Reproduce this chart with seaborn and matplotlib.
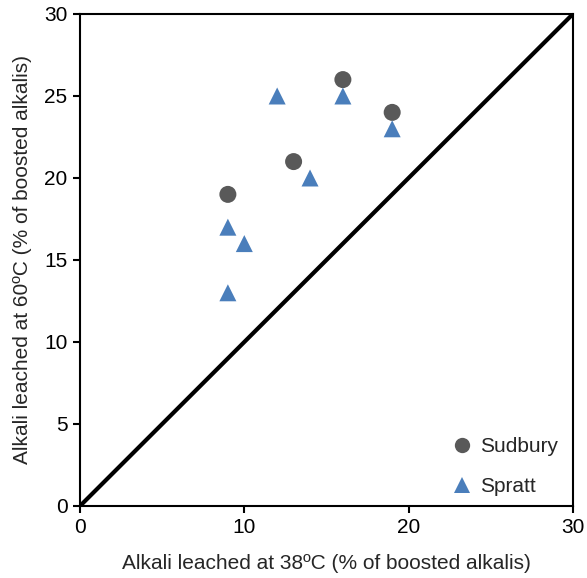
import matplotlib
matplotlib.use("Agg")
import matplotlib.pyplot as plt
import seaborn as sns
import pandas as pd

sudbury_x = [9, 13, 16, 19]
sudbury_y = [19, 21, 26, 24]
spratt_x = [9, 9, 10, 12, 14, 16, 19]
spratt_y = [17, 13, 16, 25, 20, 25, 23]
x_ticks = [0, 10, 20, 30]
y_ticks = [0, 5, 10, 15, 20, 25, 30]

df = pd.DataFrame({
    "x": sudbury_x + spratt_x,
    "y": sudbury_y + spratt_y,
    "series": ["Sudbury"] * len(sudbury_x) + ["Spratt"] * len(spratt_x),
})

sns.set_style("white")
plt.rcParams["font.family"] = ["Liberation Sans", "DejaVu Sans"]

fig = plt.figure(figsize=(5.87, 5.78), dpi=100)
ax = fig.add_axes([0.1363, 0.1246, 0.976 - 0.1363, 0.9758 - 0.1246])

ax.plot([0, 30], [0, 30], color="black", lw=3, zorder=1)

sns.scatterplot(data=df, x="x", y="y", hue="series", style="series",
                palette={"Sudbury": "#595959", "Spratt": "#4A7EBB"},
                markers={"Sudbury": "o", "Spratt": "^"},
                s=150, edgecolor="none", linewidth=0, ax=ax, zorder=3)

ax.set_xlim(0, 30)
ax.set_ylim(0, 30)
ax.set_xticks(x_ticks)
ax.set_yticks(y_ticks)
ax.tick_params(axis="both", direction="out", length=5, width=1.5, color="black",
               labelsize=15, labelcolor="black", bottom=True, left=True, pad=4)
for sp in ax.spines.values():
    sp.set_visible(True)
    sp.set_color("black")
    sp.set_linewidth(1.5)

ax.set_xlabel("Alkali leached at 38ºC (% of boosted alkalis)", fontsize=15, labelpad=12)
ax.set_ylabel("Alkali leached at 60ºC (% of boosted alkalis)", fontsize=15, labelpad=9)

leg = ax.legend(loc="lower right", bbox_to_anchor=(1.0, -0.01), frameon=False,
                fontsize=15, handletextpad=-0.1, labelspacing=1.0, markerscale=0.9,
                borderaxespad=0.3)

fig.savefig("out.png", dpi=100)
